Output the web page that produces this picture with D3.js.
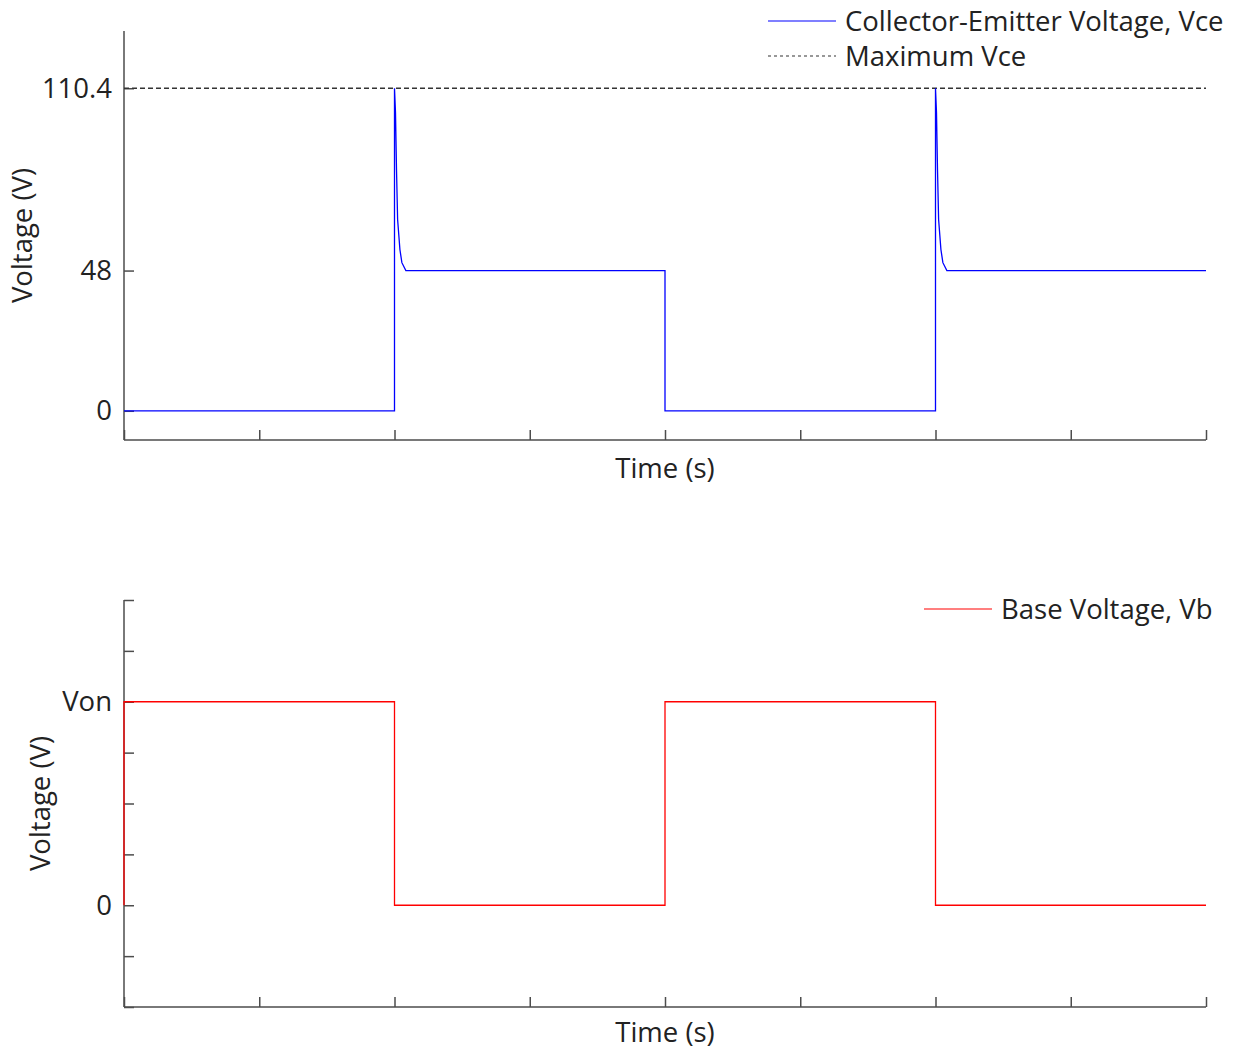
<!DOCTYPE html>
<html>
<head>
<meta charset="utf-8">
<script src="https://cdn.jsdelivr.net/npm/d3@7"></script>
<style>
    body { margin: 0; background: #fff; }
    svg text { font-family: "Open Sans", sans-serif; fill: #222; }
    .axis path, .axis line { stroke: #4d4d4d; stroke-width: 1.5; }
</style>
</head>
<body>
<div id="chart"></div>
<script>

// time axis ticks (s), no labels drawn
var timeTicks = [0, 0.5, 1, 1.5, 2, 2.5, 3, 3.5, 4];

// collector-emitter voltage
var vceTime  = [0, 1, 1, 1.0037, 1.0074, 1.0115, 1.020, 1.0273, 1.042, 2, 2, 3, 3, 3.0037, 3.0074, 3.0115, 3.020, 3.0273, 3.042, 4];
var vceValue = [0, 0, 110.4, 102, 82.6, 65.5, 55.2, 50.7, 48, 48, 0, 0, 110.4, 102, 82.6, 65.5, 55.2, 50.7, 48, 48];
var vceMax = 110.4;
var vceTicks = [0, 48, 110.4];
var vceTickLabels = ['0', '48', '110.4'];

// base voltage, Von taken as 4 units
var vbTime  = [0, 0, 1, 1, 2, 2, 3, 3, 4];
var vbValue = [0, 4, 4, 0, 0, 4, 4, 0, 0];
var vbTicks = [-2, -1, 0, 1, 2, 3, 4, 5, 6];
var vbTickLabels = {0: '0', 4: 'Von'};

var width = 1242;
var height = 1050;
var fontSize = '27.5px';

var svg = d3.select('#chart')
    .append('svg')
    .attr('width', width)
    .attr('height', height);

var x = d3.scaleLinear().domain([0, 4]).range([124, 1206]);
var yTop = d3.scaleLinear().domain([-10, 130]).range([440, 31]);
var yBot = d3.scaleLinear().domain([-2, 6]).range([1007, 600]);

function drawFrame(y, yTickValues, yFormat, xLabelY, yLabelX) {

    var range = y.range();

    // x axis with inward ticks
    svg.append('g')
        .attr('class', 'axis')
        .attr('transform', 'translate(0,' + range[0] + ')')
        .call(d3.axisTop(x).tickValues(timeTicks).tickSize(10).tickSizeOuter(0).tickFormat(''))
        .call(g => g.select('.domain').attr('d', 'M' + x.range()[0] + ',0H' + x.range()[1]));

    // y axis with inward ticks
    svg.append('g')
        .attr('class', 'axis')
        .attr('transform', 'translate(' + x.range()[0] + ',0)')
        .call(d3.axisRight(y).tickValues(yTickValues).tickSize(10).tickSizeOuter(0).tickFormat(''))
        .call(g => g.select('.domain').attr('d', 'M0,' + range[0] + 'V' + range[1]));

    svg.append('g')
        .selectAll('text')
        .data(yTickValues.filter(d => yFormat(d) !== ''))
        .enter()
        .append('text')
        .attr('x', x.range()[0] - 12)
        .attr('y', d => y(d))
        .attr('dy', '0.35em')
        .attr('text-anchor', 'end')
        .style('font-size', fontSize)
        .text(yFormat);

    svg.append('text')
        .attr('x', (x.range()[0] + x.range()[1]) / 2)
        .attr('y', xLabelY)
        .attr('dy', '0.35em')
        .attr('text-anchor', 'middle')
        .style('font-size', fontSize)
        .text('Time (s)');

    svg.append('text')
        .attr('transform', 'translate(' + yLabelX + ',' + (range[0] + range[1]) / 2 + ') rotate(-90)')
        .attr('dy', '0.35em')
        .attr('text-anchor', 'middle')
        .style('font-size', fontSize)
        .text('Voltage (V)');
}

// top panel
drawFrame(yTop, vceTicks, d => vceTickLabels[vceTicks.indexOf(d)], 468, 22);

svg.append('line')
    .attr('x1', x(0))
    .attr('x2', x(4))
    .attr('y1', yTop(vceMax))
    .attr('y2', yTop(vceMax))
    .style('stroke', '#333')
    .style('stroke-width', 1.4)
    .style('stroke-dasharray', '5,3');

var vceLine = d3.line()
    .x((d, i) => x(vceTime[i]))
    .y(d => yTop(d));

svg.append('path')
    .datum(vceValue)
    .attr('d', vceLine)
    .style('fill', 'none')
    .style('stroke', '#0000ff')
    .style('stroke-width', 1.3);

// bottom panel
drawFrame(yBot, vbTicks, d => vbTickLabels[d] || '', 1032, 40);

var vbLine = d3.line()
    .x((d, i) => x(vbTime[i]))
    .y(d => yBot(d));

svg.append('path')
    .datum(vbValue)
    .attr('d', vbLine)
    .style('fill', 'none')
    .style('stroke', '#ff0000')
    .style('stroke-width', 1.3);

// legends
function legendRow(x0, y0, label, color, dash) {

    svg.append('line')
        .attr('x1', x0)
        .attr('x2', x0 + 68)
        .attr('y1', y0)
        .attr('y2', y0)
        .style('stroke', color)
        .style('stroke-width', 1.2)
        .style('stroke-dasharray', dash);

    svg.append('text')
        .attr('x', x0 + 77)
        .attr('y', y0)
        .attr('dy', '0.35em')
        .style('font-size', fontSize)
        .text(label);
}

legendRow(768, 21, 'Collector-Emitter Voltage, Vce', '#0000ff', null);
legendRow(768, 56, 'Maximum Vce', '#333', '3,3');
legendRow(924, 609, 'Base Voltage, Vb', '#ff0000', null);

</script>
</body>
</html>
